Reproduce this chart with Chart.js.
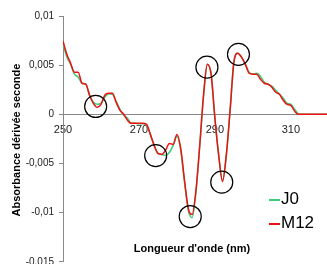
<!DOCTYPE html>
<html>
<head>
<meta charset="utf-8">
<script src="https://cdn.jsdelivr.net/npm/chart.js@4"></script>
<style>
  body { margin: 0; background: #fff; }
  #wrap { position: relative; width: 327px; height: 264px; overflow: hidden; }
  #legend { position: absolute; left: 269px; top: 188px; font: 17px "Liberation Sans", Arial, sans-serif; color: #000; }
  #legend div { height: 24px; line-height: 22px; white-space: nowrap; }
  #legend span.l { display: inline-block; width: 11px; height: 2px; vertical-align: middle; margin-right: 1px; }
</style>
</head>
<body>
<div id="wrap">
  <canvas id="spectre" width="385" height="274"></canvas>
  <div id="legend"></div>
</div>
<script>
// Longueurs d'onde (nm)
const wavelengths = [250, 251, 252, 253, 254, 255, 256, 257, 258, 259,
  260, 261, 262, 263, 264, 265, 266, 267, 268, 269,
  270, 271, 272, 273, 274, 275, 276, 277, 278, 279,
  280, 281, 282, 283, 284, 285, 286, 287, 288, 289,
  290, 291, 292, 293, 294, 295, 296, 297, 298, 299,
  300, 301, 302, 303, 304, 305, 306, 307, 308, 309,
  310, 311, 312, 313, 314, 315, 316, 317, 318, 319, 320];

// Dérivée seconde J0
const j0 = [0.00714, 0.00582, 0.00510, 0.00408, 0.00378, 0.00316, 0.00306, 0.00194, 0.00122, 0.00102,
  0.00112, 0.00173, 0.00209, 0.00204, 0.00133, 0.00051, -0.0001, -0.00041, -0.00092, -0.00092,
  -0.00097, -0.00097, -0.00112, -0.00204, -0.00316, -0.00398, -0.00408, -0.00418, -0.00388, -0.00316,
  -0.00224, -0.00367, -0.00694, -0.00980, -0.01051, -0.00796, -0.00327, 0.00184, 0.00510, 0.00408,
  -0.00041, -0.00418, -0.00673, -0.00408, 0.00041, 0.00531, 0.00622, 0.00582, 0.00510, 0.00429,
  0.00408, 0.00418, 0.00388, 0.00327, 0.00306, 0.00286, 0.00245, 0.00204, 0.00163, 0.00112,
  0.00102, 0.00051, 0.00005, 0, 0, 0, 0, 0, 0, 0, 0];

// Dérivée seconde M12
const m12 = [0.00745, 0.00612, 0.00520, 0.00429, 0.00429, 0.00316, 0.00306, 0.00194, 0.00112, 0.00071,
  0.00102, 0.00194, 0.00214, 0.00214, 0.00122, 0.00041, 0, -0.00061, -0.00092, -0.00092,
  -0.00092, -0.00092, -0.00102, -0.00204, -0.00316, -0.00398, -0.00408, -0.00367, -0.00296, -0.00306,
  -0.00204, -0.00347, -0.00673, -0.00959, -0.01020, -0.00776, -0.00316, 0.00194, 0.00510, 0.00408,
  -0.00041, -0.00418, -0.00684, -0.00418, 0.00041, 0.00531, 0.00622, 0.00582, 0.00510, 0.00418,
  0.00408, 0.00408, 0.00357, 0.00316, 0.00306, 0.00276, 0.00224, 0.00204, 0.00143, 0.00102,
  0.00092, 0.00031, 0, 0, 0, 0, 0, 0, 0, 0, 0];

// Zones entourées
const circleX = [258.6, 274.4, 283.5, 287.9, 291.8, 296.2];
const circleY = [0.0008, -0.0042, -0.0104, 0.0048, -0.0069, 0.0061];

const seriesLabels = ['J0', 'M12'];
const seriesColors = ['#3ccf7a', '#ee1111'];

const xTicks = [250, 270, 290, 310, 330];
const yTicks = [-0.015, -0.01, -0.005, 0, 0.005, 0.01];
const yTickLabels = ['-0,015', '-0,01', '-0,005', '0', '0,005', '0,01'];

const FONT = '"Liberation Sans", Arial, sans-serif';

// Titres des axes dessinés à la main
const axisTitles = {
    id: 'axisTitles',
    afterDraw(chart) {
        const ctx = chart.ctx;
        ctx.save();
        ctx.fillStyle = '#000';
        ctx.font = 'bold 11px ' + FONT;
        ctx.textAlign = 'center';
        ctx.textBaseline = 'middle';
        ctx.fillText("Longueur d'onde (nm)", 192, 249);
        ctx.translate(17, 140);
        ctx.rotate(-Math.PI / 2);
        ctx.fillText('Absorbance dérivée seconde', 0, 0);
        ctx.restore();
    }
};

function toPoints(values) {
    return wavelengths.map((w, i) => ({ x: w, y: values[i] }));
}

const ctx = document.getElementById('spectre').getContext('2d');
new Chart(ctx, {
    type: 'line',
    data: {
        datasets: [
            {
                label: 'cercles',
                type: 'scatter',
                data: circleX.map((x, i) => ({ x: x, y: circleY[i] })),
                pointRadius: 11,
                pointHoverRadius: 11,
                pointBorderColor: '#000',
                pointBorderWidth: 1.2,
                pointBackgroundColor: 'rgba(0,0,0,0)',
                showLine: false
            },
            {
                label: seriesLabels[1],
                data: toPoints(m12),
                borderColor: seriesColors[1],
                borderWidth: 1.5,
                pointRadius: 0,
                cubicInterpolationMode: 'monotone',
                fill: false
            },
            {
                label: seriesLabels[0],
                data: toPoints(j0),
                borderColor: seriesColors[0],
                borderWidth: 1.5,
                pointRadius: 0,
                cubicInterpolationMode: 'monotone',
                fill: false
            }
        ]
    },
    options: {
        responsive: false,
        animation: false,
        layout: { padding: { top: 16, right: 17, bottom: 9, left: 0 } },
        plugins: {
            legend: { display: false },
            tooltip: { enabled: false }
        },
        scales: {
            x: {
                type: 'linear',
                min: 250,
                max: 330,
                position: { y: 0 },
                afterBuildTicks: (scale) => { scale.ticks = xTicks.map(v => ({ value: v })); },
                grid: { display: false, drawTicks: false },
                border: { display: true, color: '#888', width: 1 },
                ticks: { color: '#222', font: { size: 11, family: FONT }, padding: 9, maxRotation: 0 }
            },
            y: {
                min: -0.015,
                max: 0.01,
                afterFit: (scale) => { scale.width = 63; },
                afterBuildTicks: (scale) => { scale.ticks = yTicks.map(v => ({ value: v })); },
                grid: { drawOnChartArea: false, drawTicks: true, tickLength: 4, color: '#888' },
                border: { display: true, color: '#888', width: 1 },
                ticks: {
                    color: '#222',
                    font: { size: 10, family: FONT },
                    padding: 5,
                    callback: (v) => {
                        const i = yTicks.findIndex(t => Math.abs(t - v) < 1e-9);
                        return i >= 0 ? yTickLabels[i] : '';
                    }
                }
            }
        }
    },
    plugins: [axisTitles]
});

// Légende
const legend = document.getElementById('legend');
[0, 1].forEach((i) => {
    const row = document.createElement('div');
    row.innerHTML = '<span class="l" style="background:' + seriesColors[i] + '"></span>' + seriesLabels[i];
    legend.appendChild(row);
});
</script>
</body>
</html>
